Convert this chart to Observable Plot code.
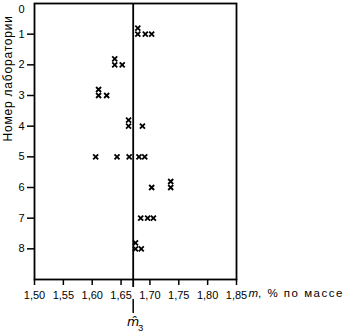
<!DOCTYPE html>
<html><head><meta charset="utf-8">
<script src="https://cdn.jsdelivr.net/npm/d3@7"></script>
<script src="https://cdn.jsdelivr.net/npm/@observablehq/plot@0.6"></script>
<style>html,body{margin:0;padding:0;background:#fff} svg{display:block}</style>
</head><body><div id="chart"></div>
<script>
// Laboratory numbers and their results, m, % by mass
const labs = [1, 2, 3, 4, 5, 6, 7, 8];
const lab1 = [1.679, 1.679, 1.692, 1.703];
const lab2 = [1.639, 1.639, 1.652];
const lab3 = [1.611, 1.611, 1.625];
const lab4 = [1.663, 1.663, 1.687];
const lab5 = [1.606, 1.643, 1.664, 1.681, 1.691];
const lab6 = [1.703, 1.736, 1.736];
const lab7 = [1.684, 1.696, 1.706];
const lab8 = [1.675, 1.675, 1.685];
const m3 = 1.671; // reference value line

const xTicks = [1.50, 1.55, 1.60, 1.65, 1.70, 1.75, 1.80, 1.85];
const yTicks = [1, 2, 3, 4, 5, 6, 7, 8];
const yTopTick = [0];
const yLabel = "Номер лаборатории";
const xLabelVar = "m";
const xLabelRest = ", % по массе";
const m3Letter = "m\u0311";
const m3Sub = "3";

const series = [lab1, lab2, lab3, lab4, lab5, lab6, lab7, lab8];
const points = [];
labs.forEach((lab, i) => {
  const seen = new Map();
  series[i].forEach(v => {
    const k = seen.get(v) || 0;
    seen.set(v, k + 1);
    points.push({lab, value: v, dup: k});
  });
});
const firsts = points.filter(d => d.dup === 0);
const repeats = points.filter(d => d.dup > 0);

const fmt = d => d.toFixed(2).replace(".", ",");
const font = "Liberation Sans, Arial, sans-serif";
const stem = {draw(context, l) { context.moveTo(0, 0); context.lineTo(0, -l); }};

const chart = Plot.plot({
  width: 347,
  height: 335,
  marginLeft: 34,
  marginRight: 111,
  marginTop: 3,
  marginBottom: 56,
  style: {fontFamily: font, fontSize: "11px", color: "black", background: "white", overflow: "visible"},
  x: {domain: [1.50, 1.85]},
  y: {domain: [0, 9], reverse: true},
  marks: [
    Plot.axisX({ticks: xTicks, tickSize: 6, tickPadding: 6, tickFormat: fmt, label: null, strokeWidth: 1.5}),
    Plot.axisY({ticks: yTicks, tickSize: 7, tickPadding: 3, label: null, strokeWidth: 1.5}),
    Plot.text(yTopTick, {y: d => d, frameAnchor: "left", dx: -10, dy: 6, textAnchor: "end", text: d => String(d)}),
    Plot.text([yLabel], {frameAnchor: "left", dx: -26, rotate: -90, text: d => d, fontSize: 12}),
    Plot.text([xLabelVar], {frameAnchor: "bottom-right", dx: 12, dy: 17, textAnchor: "start", fontStyle: "italic", fontSize: 11.5, text: d => d}),
    Plot.text([xLabelRest], {frameAnchor: "bottom-right", dx: 21.5, dy: 17, textAnchor: "start", fontSize: 11.5, text: d => d}),
    Plot.ruleX([m3], {x: d => d, stroke: "black", strokeWidth: 1.8, insetBottom: -8}),
    Plot.vector([m3], {x: d => d, frameAnchor: "bottom", length: 13, rotate: 180, anchor: "start", shape: stem, dy: 20, stroke: "black", strokeWidth: 1.5}),
    Plot.text([m3], {x: d => d, frameAnchor: "bottom", dy: 46, text: () => m3Letter, fontStyle: "italic", fontFamily: "DejaVu Sans", fontSize: 12.5}),
    Plot.text([m3], {x: d => d, frameAnchor: "bottom", dx: 7.5, dy: 51, text: () => m3Sub, fontSize: 9.5}),
    Plot.dot(firsts, {x: "value", y: "lab", symbol: "times", r: 2.4, stroke: "black", strokeWidth: 1.8}),
    Plot.dot(repeats, {x: "value", y: "lab", symbol: "times", r: 2.4, stroke: "black", strokeWidth: 1.8, dy: -6}),
    Plot.frame({stroke: "black", strokeWidth: 1.8})
  ]
});
// widen the letter spacing of the two text labels to match the reference
const sel = d3.select(chart).selectAll("text");
sel.filter(function() { return this.textContent === xLabelRest; }).attr("letter-spacing", 1.5);
sel.filter(function() { return this.textContent === yLabel; }).attr("letter-spacing", 0.8);
document.getElementById("chart").appendChild(chart);
</script>
</body></html>
